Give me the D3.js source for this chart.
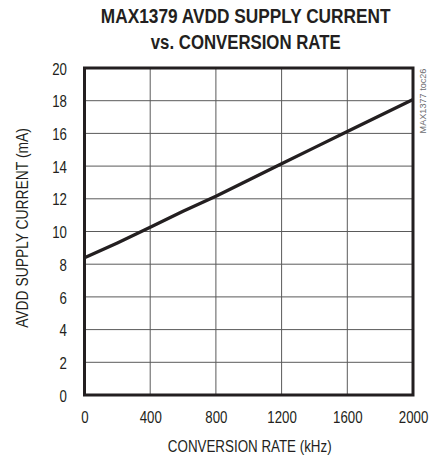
<!DOCTYPE html>
<html>
<head>
<meta charset="utf-8">
<script src="https://cdn.jsdelivr.net/npm/d3@7"></script>
<style>
  html, body { margin: 0; padding: 0; background: #fff; }
  svg { display: block; }
  text { font-family: "Liberation Sans", Arial, sans-serif; fill: #231f20; }
</style>
</head>
<body>
<div id="chart"></div>
<script>
// ---- data ----
const rateKHz = [0, 200, 400, 600, 800, 1000, 1200, 1400, 1600, 1800, 2000];
const currentMA = [8.39, 9.3, 10.26, 11.24, 12.16, 13.15, 14.14, 15.13, 16.12, 17.1, 18.07];
const xTicks = [0, 400, 800, 1200, 1600, 2000];
const yTicks = [0, 2, 4, 6, 8, 10, 12, 14, 16, 18, 20];
const titleLines = ["MAX1379 AVDD SUPPLY CURRENT", "vs. CONVERSION RATE"];
const xTitle = "CONVERSION RATE (kHz)";
const yTitle = "AVDD SUPPLY CURRENT (mA)";
const sideNote = "MAX1377 toc26";

// ---- layout ----
const W = 430, H = 458;
const plot = { left: 84.5, right: 413, top: 68, bottom: 395 };

const svg = d3.select("#chart").append("svg")
  .attr("width", W).attr("height", H);

const x = d3.scaleLinear().domain([0, 2000]).range([plot.left, plot.right]);
const y = d3.scaleLinear().domain([0, 20]).range([plot.bottom, plot.top]);

// place a text condensed to a target width via a horizontal scale transform
function fitText(sel, cx, cy, targetW, rotate) {
  const node = sel.node();
  const len = node.getComputedTextLength();
  const s = targetW / len;
  sel.attr("x", 0).attr("y", 0)
     .attr("transform", `translate(${cx},${cy})${rotate ? ` rotate(${rotate})` : ""} scale(${s},1)`);
}

// title
const titleW = [290, 190];
const titleY = [23, 49];
titleLines.forEach((t, i) => {
  const tt = svg.append("text")
    .attr("text-anchor", "middle")
    .attr("font-size", 20.5).attr("font-weight", "bold")
    .text(t);
  fitText(tt, 245.7, titleY[i], titleW[i]);
});

// grid
const grid = svg.append("g");
grid.selectAll("line.v").data(xTicks.slice(1, -1)).join("line")
  .attr("x1", d => x(d)).attr("x2", d => x(d))
  .attr("y1", plot.top).attr("y2", plot.bottom)
  .attr("stroke", "#5a5a5a").attr("stroke-width", 1);
grid.selectAll("line.h").data(yTicks.slice(1, -1)).join("line")
  .attr("y1", d => y(d)).attr("y2", d => y(d))
  .attr("x1", plot.left).attr("x2", plot.right)
  .attr("stroke", "#5a5a5a").attr("stroke-width", 1);

const condenseRatio = 0.78;

// axes (labels only)
const xAxis = svg.append("g")
  .attr("transform", `translate(0,${plot.bottom})`)
  .call(d3.axisBottom(x).tickValues(xTicks).tickSize(0).tickPadding(0).tickFormat(d3.format("d")));
xAxis.select(".domain").remove();
xAxis.selectAll("text")
  .attr("x", 0).attr("y", 0).attr("dy", 0)
  .attr("font-size", 17).attr("font-family", "Liberation Sans, Arial, sans-serif")
  .attr("fill", "#231f20")
  .attr("transform", `translate(0,28) scale(${condenseRatio},1)`);

const yAxis = svg.append("g")
  .attr("transform", `translate(${plot.left},0)`)
  .call(d3.axisLeft(y).tickValues(yTicks).tickSize(0).tickPadding(0).tickFormat(d3.format("d")));
yAxis.select(".domain").remove();
yAxis.selectAll("text")
  .attr("x", 0).attr("dy", "0.36em")
  .attr("font-size", 17).attr("font-family", "Liberation Sans, Arial, sans-serif")
  .attr("fill", "#231f20")
  .attr("transform", `translate(-17.5,0) scale(${condenseRatio},1)`);

// data line
const line = d3.line().x((d, i) => x(rateKHz[i])).y(d => y(d));
svg.append("path")
  .datum(currentMA)
  .attr("d", line)
  .attr("fill", "none")
  .attr("stroke", "#231f20")
  .attr("stroke-width", 3.3)
  .attr("stroke-linejoin", "round");

// frame
svg.append("rect")
  .attr("x", plot.left).attr("y", plot.top)
  .attr("width", plot.right - plot.left).attr("height", plot.bottom - plot.top)
  .attr("fill", "none").attr("stroke", "#231f20").attr("stroke-width", 3);

// axis titles
const xt = svg.append("text")
  .attr("text-anchor", "middle").attr("font-size", 16.5)
  .text(xTitle);
fitText(xt, (plot.left + plot.right) / 2 + 1, 451.5, 164);

const yt = svg.append("text")
  .attr("text-anchor", "middle").attr("font-size", 16.5)
  .text(yTitle);
fitText(yt, 27.5, 228, 200, -90);

// side note
const sn = svg.append("text")
  .attr("text-anchor", "middle").attr("font-size", 9.5)
  .style("fill", "#6d6e71")
  .text(sideNote);
fitText(sn, 425.5, 101, 65, -90);
</script>
</body>
</html>
